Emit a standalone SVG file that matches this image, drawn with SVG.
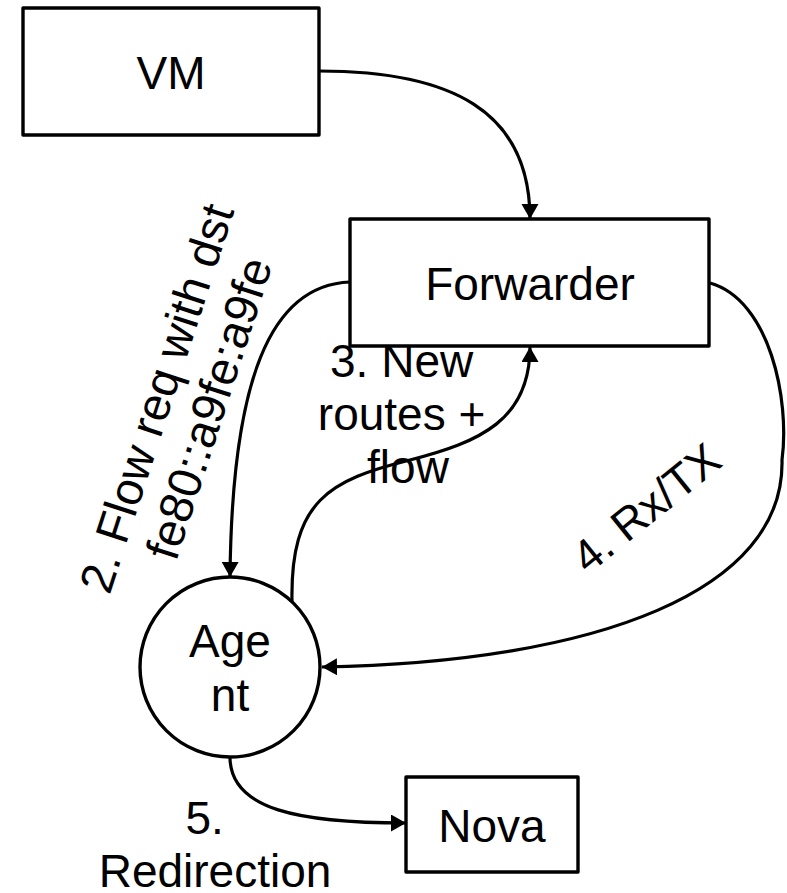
<svg xmlns="http://www.w3.org/2000/svg" width="787" height="893" viewBox="0 0 787 893">
  <style>
    .shape { fill: #ffffff; stroke: #000000; stroke-width: 3.4; stroke-linejoin: round; }
    .label { font-family: "Liberation Sans", Arial, sans-serif; font-size: 46px; fill: #000000; text-anchor: middle; }
    .edge { fill: none; stroke: #000000; stroke-width: 3.2; marker-end: url(#arrow); }
  </style>
  <defs>
    <marker id="arrow" markerUnits="userSpaceOnUse" markerWidth="16" markerHeight="18" refX="15" refY="8.5" orient="auto">
      <path d="M0,0 L15,8.5 L0,17 z" fill="#000000"/>
    </marker>
  </defs>
  <rect width="787" height="893" fill="#ffffff"/>

  <g id="vm">
    <rect class="shape" x="23" y="8" width="296" height="127"/>
    <text class="label" x="171" y="89">VM</text>
  </g>

  <g id="forwarder">
    <rect class="shape" x="350" y="219" width="359" height="127"/>
    <text class="label" x="530" y="300">Forwarder</text>
  </g>

  <g id="agent">
    <circle class="shape" cx="230" cy="667" r="90"/>
    <text class="label" x="230" y="657">Age</text>
    <text class="label" x="230" y="711">nt</text>
  </g>

  <g id="nova">
    <rect class="shape" x="406" y="777" width="172" height="95"/>
    <text class="label" x="492" y="842">Nova</text>
  </g>

  <g id="connectors">
    <!-- 1. VM to Forwarder -->
    <path class="edge" d="M319,71 C450,71 530,110 530,219"/>
    <!-- 2. Forwarder to Agent (flow request) -->
    <path class="edge" d="M350,282 C270,285 232,380 230,577"/>
    <!-- 3. Agent to Forwarder (new routes + flow) -->
    <path class="edge" d="M292,602 C290,500 330,480 410,460 C480,442 530,420 530,347"/>
    <!-- 4. Forwarder to Agent (Rx/Tx) -->
    <path class="edge" d="M710,283 C770,300 790,400 782,460 C785,590 600,662 322,667"/>
    <!-- 5. Agent to Nova (redirection) -->
    <path class="edge" d="M230,757 C230,810 300,823 406,823"/>

    <text class="label" style="font-size:47px" transform="translate(174,397) rotate(-72)">
      <tspan x="0" y="0">2. Flow req with dst</tspan>
      <tspan x="0" y="53">fe80::a9fe:a9fe</tspan>
    </text>
    <text class="label">
      <tspan x="408" y="377">3. New</tspan>
      <tspan x="408" y="430">routes +</tspan>
      <tspan x="408" y="483">flow</tspan>
    </text>
    <text class="label" style="font-size:45px" transform="translate(656,520) rotate(-39)" x="0" y="0">4. Rx/TX</text>
    <text class="label">
      <tspan x="211" y="834">5.</tspan>
      <tspan x="215" y="887">Redirection</tspan>
    </text>
  </g>
</svg>
